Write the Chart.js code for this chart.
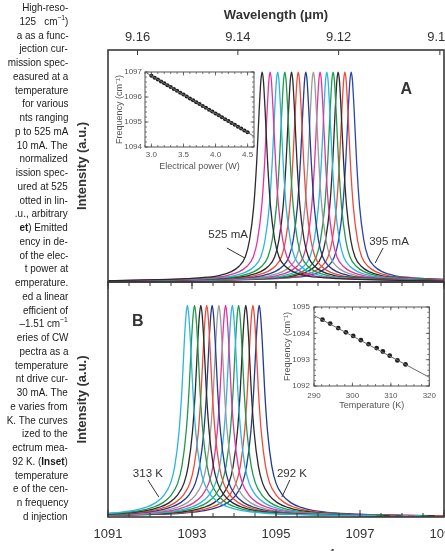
<!DOCTYPE html>
<html>
<head>
<meta charset="utf-8">
<script src="https://cdn.jsdelivr.net/npm/chart.js@4.4.1/dist/chart.umd.min.js"></script>
<style>
  html, body { margin: 0; padding: 0; background: #fff; }
  #wrap { position: relative; width: 445px; height: 551px; overflow: hidden; background: #fff; }
  canvas { position: absolute; }
  #caption { position: absolute; left: 0; top: 0; width: 69px; height: 551px; overflow: hidden; z-index: 5;
             font-family: "Liberation Sans", Arial, sans-serif; font-size: 11px; color: #1a1a1a; }
  #caption div { position: absolute; right: 1px; white-space: nowrap; line-height: 13px;
                 transform: scaleX(0.9); transform-origin: right center; }
  #caption sup { font-size: 7.5px; line-height: 0; }
</style>
</head>
<body>
<div id="wrap">
  <div id="caption"></div>
  <canvas id="specA" width="470" height="283" style="left:0;top:0"></canvas>
  <canvas id="specB" width="470" height="300" style="left:0;top:270px"></canvas>
  <canvas id="insetA" width="160" height="115" style="left:105px;top:62px"></canvas>
  <canvas id="insetB" width="165" height="120" style="left:276px;top:297px"></canvas>
</div>
<script>
// ---- data ----
const freqTicks = [1091, 1093, 1095, 1097, 1099];
const wavelengthTicks = [9.16, 9.14, 9.12, 9.10];

// panel A: spectra vs drive current (left to right)
const currentsA = [525, 515, 505, 495, 485, 475, 465, 455, 445, 435, 425, 415, 405, 395];
const peaksA = [1094.67, 1094.86, 1095.04, 1095.21, 1095.37, 1095.53, 1095.71,
                1095.89, 1096.05, 1096.21, 1096.36, 1096.48, 1096.64, 1096.79];
const colorsA = ['#2b2b2b', '#e0359b', '#2bb5e0', '#1f9a4b', '#2b2b2b', '#ec4b3c', '#233a8f',
                 '#9a9a9a', '#e0359b', '#2bb5e0', '#1f9a4b', '#2b2b2b', '#ec4b3c', '#2a44b0'];

// panel B: spectra vs temperature (left to right)
const tempsB = [313, 311, 309, 307, 305, 303, 301, 299, 297, 295, 294, 292];
const peaksB = [1092.89, 1093.06, 1093.21, 1093.35, 1093.48, 1093.64,
                1093.80, 1093.96, 1094.11, 1094.28, 1094.45, 1094.60];
const colorsB = ['#2bb5e0', '#1f9a4b', '#2b2b2b', '#ec4b3c', '#233a8f', '#9a9a9a',
                 '#e0359b', '#2bb5e0', '#1f9a4b', '#2b2b2b', '#ec4b3c', '#233a8f'];

// normalized line shape, offset from line centre (cm-1)
const lineOffsets = [-4.5, -3.5, -2.5, -1.8, -1.3, -1.0, -0.75, -0.55, -0.4, -0.3, -0.2, -0.13, -0.07, -0.03, 0,
                     0.03, 0.07, 0.13, 0.2, 0.3, 0.4, 0.55, 0.75, 1.0, 1.3, 1.8, 2.5, 3.5, 4.5];
const shapeA = [0.004, 0.007, 0.011, 0.016, 0.023, 0.032, 0.048, 0.075, 0.12, 0.2, 0.36, 0.57, 0.82, 0.96, 1.0,
                0.96, 0.82, 0.57, 0.36, 0.2, 0.12, 0.075, 0.048, 0.032, 0.023, 0.016, 0.011, 0.007, 0.004];
const shapeB = [0.005, 0.008, 0.012, 0.019, 0.03, 0.045, 0.068, 0.105, 0.16, 0.24, 0.4, 0.6, 0.84, 0.96, 1.0,
                0.96, 0.84, 0.6, 0.4, 0.24, 0.16, 0.105, 0.068, 0.045, 0.03, 0.019, 0.012, 0.008, 0.005];

// inset A: frequency vs electrical power
const powerW = [3.00, 3.05, 3.10, 3.15, 3.20, 3.25, 3.30, 3.35, 3.40, 3.45, 3.50, 3.55, 3.60, 3.65, 3.70, 3.75,
                3.80, 3.85, 3.90, 3.95, 4.00, 4.05, 4.10, 4.15, 4.20, 4.25, 4.30, 4.35, 4.40, 4.45, 4.50];
const freqVsPower = [1096.85, 1096.77, 1096.70, 1096.62, 1096.55, 1096.47, 1096.40, 1096.32, 1096.25, 1096.17,
                     1096.10, 1096.02, 1095.94, 1095.87, 1095.79, 1095.72, 1095.64, 1095.57, 1095.49, 1095.42,
                     1095.34, 1095.27, 1095.19, 1095.11, 1095.04, 1094.96, 1094.89, 1094.81, 1094.74, 1094.66, 1094.59];
const fitPowerX = [2.9, 4.6];
const fitPowerY = [1097.00, 1094.43];
const powerTicks = [3.0, 3.5, 4.0, 4.5];
const freqTicksInsetA = [1094, 1095, 1096, 1097];

// inset B: frequency vs temperature
const tempK = [292.2, 294.2, 296.3, 298.3, 300.2, 302.2, 304.2, 306.3, 307.9, 309.7, 311.7, 313.8];
const freqVsTemp = [1094.52, 1094.37, 1094.20, 1094.04, 1093.90, 1093.74, 1093.59, 1093.44, 1093.31, 1093.15, 1092.97, 1092.82];
const fitTempX = [290, 320];
const fitTempY = [1094.68, 1092.33];
const tempTicks = [290, 300, 310, 320];
const freqTicksInsetB = [1092, 1093, 1094, 1095];

// caption column (cut at the left edge)
const captionLines = [
  'High-reso-', '125&nbsp;&nbsp;&nbsp;cm<sup>−1</sup>)', 'a as a func-', 'jection cur-', 'mission spec-',
  'easured at a', 'temperature', 'for various', 'nts ranging', 'p to 525 mA', '10 mA. The', 'normalized',
  'ission spec-', 'ured at 525', 'otted in lin-', '.u., arbitrary', '<b>et</b>) Emitted', 'ency in de-',
  'of the elec-', 't power at', 'emperature.', 'ed a linear', 'efficient of', '–1.51 cm<sup>−1</sup>',
  'eries of CW', 'pectra as a', 'temperature', 'nt drive cur-', '30 mA. The', 'e varies from',
  'K. The curves', 'ized to the', 'ectrum mea-', '92 K. (<b>Inset</b>)', 'temperature', 'e of the cen-',
  'n frequency', 'd injection'
];

const cap = document.getElementById('caption');
captionLines.forEach((t, i) => {
  const d = document.createElement('div');
  d.innerHTML = t;
  d.style.top = (1 + i * 13.75) + 'px';
  cap.appendChild(d);
});

// ---- helpers ----
Chart.defaults.font.family = '"Liberation Sans", Arial, sans-serif';
Chart.defaults.color = '#333';

function halfSteps(a, b, step) {
  const out = [];
  for (let v = a; v <= b + 1e-9; v += step) out.push(+v.toFixed(3));
  return out;
}

// frame + inward tick marks
function frame(color, width, marks) {
  return {
    id: 'frame',
    beforeDatasetsDraw(chart) {
      if (!marks.fill) return;
      const a = chart.chartArea, ctx = chart.ctx;
      ctx.save(); ctx.fillStyle = '#fff';
      ctx.fillRect(a.left, a.top, a.right - a.left, a.bottom - a.top);
      ctx.restore();
    },
    afterDatasetsDraw(chart) {
      const a = chart.chartArea, ctx = chart.ctx;
      ctx.save();
      ctx.strokeStyle = color;
      ctx.lineWidth = width;
      ctx.strokeRect(a.left, a.top, a.right - a.left, a.bottom - a.top);
      ctx.lineWidth = marks.tickWidth || 1;
      marks.list.forEach(m => {
        const s = chart.scales[m.scale];
        m.values.forEach(v => {
          const p = s.getPixelForValue(v);
          ctx.beginPath();
          if (m.side === 'top') { ctx.moveTo(p, a.top); ctx.lineTo(p, a.top + m.len); }
          if (m.side === 'bottom') { ctx.moveTo(p, a.bottom); ctx.lineTo(p, a.bottom - m.len); }
          if (m.side === 'left') { ctx.moveTo(a.left, p); ctx.lineTo(a.left + m.len, p); }
          if (m.side === 'right') { ctx.moveTo(a.right, p); ctx.lineTo(a.right - m.len, p); }
          ctx.stroke();
        });
      });
      ctx.restore();
    }
  };
}

// text labels with leader lines, placed in data units
function notes(list) {
  return {
    id: 'notes',
    afterDraw(chart) {
      const ctx = chart.ctx, sx = chart.scales.x, sy = chart.scales.y;
      ctx.save();
      list.forEach(n => {
        ctx.font = n.font;
        ctx.fillStyle = '#333';
        ctx.textAlign = 'center';
        ctx.textBaseline = 'middle';
        ctx.fillText(n.text, sx.getPixelForValue(n.x), sy.getPixelForValue(n.y));
        if (n.line) {
          ctx.strokeStyle = '#333'; ctx.lineWidth = 1;
          ctx.beginPath();
          ctx.moveTo(sx.getPixelForValue(n.line[0]), sy.getPixelForValue(n.line[1]));
          ctx.lineTo(sx.getPixelForValue(n.line[2]), sy.getPixelForValue(n.line[3]));
          ctx.stroke();
        }
      });
      ctx.restore();
    }
  };
}

function spectra(peaks, colors, shape) {
  return peaks.map((c, k) => ({
    xAxisID: 'x',
    data: lineOffsets.map((d, i) => ({ x: c + d, y: shape[i] })),
    borderColor: colors[k],
    borderWidth: 1.3,
    pointRadius: 0,
    cubicInterpolationMode: 'monotone',
    fill: false
  }));
}

const tickFont = { size: 13 };
const titleFont = { size: 13, weight: 'bold' };
const yTitle = {
  afterFit: s => { s.width = 108; },
  ticks: { display: false }, grid: { display: false }, border: { display: false },
  title: { display: true, text: 'Intensity (a.u.)', font: titleFont, color: '#333', padding: { top: 75, bottom: 0 } }
};
const minorFreq = halfSteps(1091, 1099, 0.5);

// ---- panel A ----
new Chart(document.getElementById('specA'), {
  type: 'line',
  data: { datasets: spectra(peaksA, colorsA, shapeA) },
  options: {
    responsive: false, animation: false, events: [],
    layout: { padding: { left: 0, right: 26, top: 0, bottom: 1 } },
    plugins: { legend: { display: false }, tooltip: { enabled: false } },
    scales: {
      x: { type: 'linear', min: 1091, max: 1099, display: false },
      xTop: {
        type: 'linear', position: 'top', min: 1091, max: 1099,
        afterBuildTicks: s => { s.ticks = wavelengthTicks.map(w => ({ value: 1e4 / w })); },
        afterFit: s => { s.height = 50; },
        grid: { display: false, drawTicks: false }, border: { display: false },
        ticks: { padding: 5, font: tickFont, color: '#333', autoSkip: false, maxRotation: 0,
                 callback: (v, i) => wavelengthTicks[i].toFixed(2) },
        title: { display: true, text: 'Wavelength (μm)', font: titleFont, color: '#333', padding: { top: 8, bottom: 0 } }
      },
      y: Object.assign({ min: 0, max: 1.105 }, yTitle)
    }
  },
  plugins: [
    frame('#3a3a3a', 1.6, { list: [{ scale: 'xTop', side: 'top', len: 5, values: wavelengthTicks.map(w => 1e4 / w) }] }),
    notes([
      { text: '525 mA', font: '11.5px "Liberation Sans"', x: 1093.86, y: 0.224, line: [1093.83, 0.162, 1094.26, 0.114] },
      { text: '395 mA', font: '11.5px "Liberation Sans"', x: 1097.69, y: 0.19, line: [1097.55, 0.162, 1097.36, 0.09] },
      { text: 'A', font: 'bold 16px "Liberation Sans"', x: 1098.1, y: 0.915 }
    ])
  ]
});

// ---- panel B ----
const bottomTitle = {
  id: 'bottomTitle',
  afterDraw(chart) {
    const ctx = chart.ctx;
    const main = 'Frequency (cm', sup = '−1', close = ')';
    ctx.save();
    ctx.fillStyle = '#333';
    ctx.textBaseline = 'alphabetic';
    ctx.font = 'bold 13px "Liberation Sans"';
    const w1 = ctx.measureText(main).width, w3 = ctx.measureText(close).width;
    ctx.font = 'bold 9px "Liberation Sans"';
    const w2 = ctx.measureText(sup).width;
    let x = 286 - (w1 + w2 + w3) / 2;
    const base = 294;
    ctx.font = 'bold 13px "Liberation Sans"';
    ctx.fillText(main, x, base); x += w1;
    ctx.font = 'bold 9px "Liberation Sans"';
    ctx.fillText(sup, x, base - 9); x += w2;
    ctx.font = 'bold 13px "Liberation Sans"';
    ctx.fillText(close, x, base);
    ctx.restore();
  }
};

new Chart(document.getElementById('specB'), {
  type: 'line',
  data: { datasets: spectra(peaksB, colorsB, shapeB) },
  options: {
    responsive: false, animation: false, events: [],
    layout: { padding: { left: 0, right: 26, top: 12, bottom: 0 } },
    plugins: { legend: { display: false }, tooltip: { enabled: false } },
    scales: {
      x: {
        type: 'linear', min: 1091, max: 1099,
        afterBuildTicks: s => { s.ticks = freqTicks.map(v => ({ value: v })); },
        afterFit: s => { s.height = 53; },
        grid: { display: false, drawTicks: false }, border: { display: false },
        ticks: { padding: 10, font: tickFont, color: '#333', autoSkip: false, maxRotation: 0,
                 callback: v => String(v) }
      },
      y: Object.assign({ min: 0, max: 1.11 }, yTitle)
    }
  },
  plugins: [
    frame('#3a3a3a', 1.6, { list: [
      { scale: 'x', side: 'top', len: 4, values: minorFreq },
      { scale: 'x', side: 'top', len: 7, values: freqTicks },
      { scale: 'x', side: 'bottom', len: 4, values: minorFreq },
      { scale: 'x', side: 'bottom', len: 7, values: freqTicks }
    ] }),
    notes([
      { text: '313 K', font: '11.5px "Liberation Sans"', x: 1091.95, y: 0.203, line: [1091.95, 0.175, 1092.21, 0.094] },
      { text: '292 K', font: '11.5px "Liberation Sans"', x: 1095.38, y: 0.203, line: [1095.33, 0.175, 1095.14, 0.094] },
      { text: 'B', font: 'bold 16px "Liberation Sans"', x: 1091.71, y: 0.925 }
    ]),
    bottomTitle
  ]
});

// ---- insets ----
function inset(id, cfg) {
  const minorX = halfSteps(cfg.xMin, cfg.xMax, cfg.xMinor);
  const minorY = halfSteps(cfg.yMin, cfg.yMax, cfg.yMinor);
  new Chart(document.getElementById(id), {
    type: 'scatter',
    data: {
      datasets: [
        { data: cfg.fitX.map((x, i) => ({ x, y: cfg.fitY[i] })), showLine: true, pointRadius: 0,
          borderColor: '#6a6a6a', borderWidth: 1 },
        { data: cfg.px.map((x, i) => ({ x, y: cfg.py[i] })), pointRadius: cfg.r, borderWidth: 0,
          backgroundColor: '#1e1e1e' }
      ]
    },
    options: {
      responsive: false, animation: false, events: [],
      layout: { padding: cfg.pad },
      plugins: { legend: { display: false }, tooltip: { enabled: false } },
      scales: {
        x: {
          type: 'linear', min: cfg.xMin, max: cfg.xMax,
          afterBuildTicks: s => { s.ticks = cfg.xTicks.map(v => ({ value: v })); },
          afterFit: s => { s.height = cfg.xH; },
          grid: { display: false, drawTicks: false }, border: { display: false },
          ticks: { padding: cfg.xPad, font: { size: 8 }, color: '#555', autoSkip: false, maxRotation: 0,
                   callback: v => cfg.xFmt(v) },
          title: { display: true, text: cfg.xTitle, font: { size: 9 }, color: '#555', padding: { top: 0, bottom: cfg.xTitlePad } }
        },
        y: {
          type: 'linear', min: cfg.yMin, max: cfg.yMax,
          afterBuildTicks: s => { s.ticks = cfg.yTicks.map(v => ({ value: v })); },
          afterFit: s => { s.width = cfg.yW; },
          grid: { display: false, drawTicks: false }, border: { display: false },
          ticks: { padding: cfg.yPad, font: { size: 8 }, color: '#555', autoSkip: false,
                   callback: v => String(v) },
          title: { display: true, text: 'Frequency (cm⁻¹)', font: { size: 9 }, color: '#555', padding: { top: cfg.yTitlePad, bottom: 0 } }
        }
      }
    },
    plugins: [frame('#555', 1, { fill: true, tickWidth: 0.8, list: [
      { scale: 'x', side: 'bottom', len: 2, values: minorX }, { scale: 'x', side: 'top', len: 2, values: minorX },
      { scale: 'x', side: 'bottom', len: 3.5, values: cfg.xTicks }, { scale: 'x', side: 'top', len: 3.5, values: cfg.xTicks },
      { scale: 'y', side: 'left', len: 2, values: minorY }, { scale: 'y', side: 'right', len: 2, values: minorY },
      { scale: 'y', side: 'left', len: 3.5, values: cfg.yTicks }, { scale: 'y', side: 'right', len: 3.5, values: cfg.yTicks }
    ] })]
  });
}

inset('insetA', {
  px: powerW, py: freqVsPower, fitX: fitPowerX, fitY: fitPowerY, r: 2.1,
  xMin: 2.9, xMax: 4.6, xMinor: 0.1, yMin: 1094, yMax: 1097, yMinor: 0.2,
  xTicks: powerTicks, yTicks: freqTicksInsetA, xFmt: v => v.toFixed(1),
  xTitle: 'Electrical power (W)',
  pad: { left: 0, right: 11, top: 10, bottom: 0 }, xH: 30, yW: 40, xPad: 3, yPad: 3, xTitlePad: 5, yTitlePad: 9
});

inset('insetB', {
  px: tempK, py: freqVsTemp, fitX: fitTempX, fitY: fitTempY, r: 2.4,
  xMin: 290, xMax: 320, xMinor: 2, yMin: 1092, yMax: 1095, yMinor: 0.2,
  xTicks: tempTicks, yTicks: freqTicksInsetB, xFmt: v => String(v),
  xTitle: 'Temperature (K)',
  pad: { left: 0, right: 8, top: 10, bottom: 0 }, xH: 31, yW: 38, xPad: 5, yPad: 4, xTitlePad: 5.6, yTitlePad: 6.6
});
</script>
</body>
</html>
